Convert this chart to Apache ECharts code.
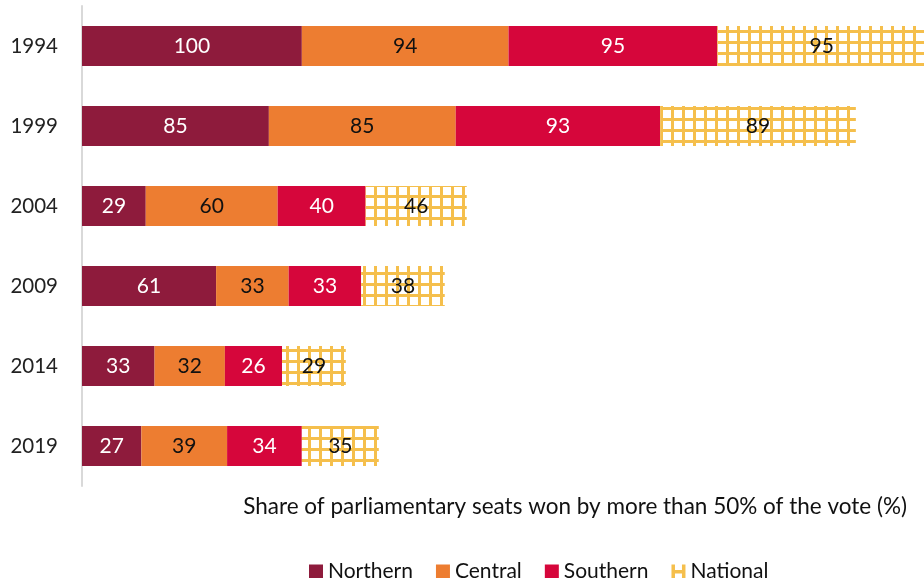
<!DOCTYPE html>
<html>
<head>
<meta charset="utf-8">
<style>
  html, body { margin: 0; padding: 0; background: #fff; }
  #chart { width: 924px; height: 578px; }
</style>
<script src="https://cdn.jsdelivr.net/npm/echarts@6/dist/echarts.min.js"></script>
</head>
<body>
<div id="chart"></div>
<script>
// Election years (top to bottom)
const years = ['1994', '1999', '2004', '2009', '2014', '2019'];

// Share of seats won with more than 50% of the vote, by region (%)
const northern = [100, 85, 29, 61, 33, 27];
const central  = [94, 85, 60, 33, 32, 39];
const southern = [95, 93, 40, 33, 26, 34];
const national = [95, 89, 46, 38, 29, 35];

const axisTitle = 'Share of parliamentary seats won by more than 50% of the vote (%)';

const FONT = 'Lato, "Open Sans", sans-serif';
const YELLOW = '#F5BF4C';

// Grid hatch fill for the national bars
function gridPattern() {
  const size = 11, line = 3;
  const c = document.createElement('canvas');
  c.width = size; c.height = size;
  const ctx = c.getContext('2d');
  ctx.fillStyle = '#ffffff';
  ctx.fillRect(0, 0, size, size);
  ctx.fillStyle = YELLOW;
  ctx.fillRect(0, 0, line, size);
  ctx.fillRect(0, size - line, size, line);
  return { image: c, repeat: 'repeat' };
}

function barSeries(name, data, color, labelColor) {
  return {
    name: name,
    type: 'bar',
    stack: 'total',
    barCategoryGap: '50%',
    clip: false,
    data: data,
    itemStyle: { color: color },
    label: {
      show: true,
      position: 'inside',
      color: labelColor,
      fontFamily: FONT,
      fontSize: 21
    },
    emphasis: { disabled: true }
  };
}

const chart = echarts.init(document.getElementById('chart'), null, { renderer: 'canvas' });

chart.setOption({
  animation: false,
  backgroundColor: '#ffffff',
  // The value axis runs past the right edge of the canvas
  grid: { left: 82, top: 6, right: 0, height: 480, containLabel: false },
  xAxis: {
    type: 'value',
    min: 0,
    max: 383,
    show: false
  },
  yAxis: {
    type: 'category',
    data: years,
    inverse: true,
    axisLine: { show: true, lineStyle: { color: '#D9D9D9', width: 2 } },
    axisTick: { show: false },
    axisLabel: { color: '#222', fontFamily: FONT, fontSize: 20.5, margin: 24 }
  },
  legend: {
    bottom: -9,
    left: 304,
    itemWidth: 14,
    itemHeight: 14,
    itemGap: 23,
    textStyle: { color: '#111', fontFamily: FONT, fontSize: 21 },
    data: [
      { name: 'Northern', icon: 'rect' },
      { name: 'Central', icon: 'rect' },
      { name: 'Southern', icon: 'rect' },
      {
        name: 'National',
        icon: 'path://M0,0h2.5v10h-2.5z M7.5,0h2.5v10h-2.5z M0,4h10v2.5h-10z',
        itemStyle: { color: YELLOW }
      }
    ]
  },
  graphic: [{
    type: 'text',
    right: 17,
    top: 495,
    style: {
      text: axisTitle,
      fill: '#111',
      font: '22.5px ' + FONT
    }
  }],
  series: [
    barSeries('Northern', northern, '#8E1B3C', '#ffffff'),
    barSeries('Central', central, '#ED7D31', '#111111'),
    barSeries('Southern', southern, '#D6063B', '#ffffff'),
    barSeries('National', national, gridPattern(), '#111111')
  ]
});
</script>
</body>
</html>
